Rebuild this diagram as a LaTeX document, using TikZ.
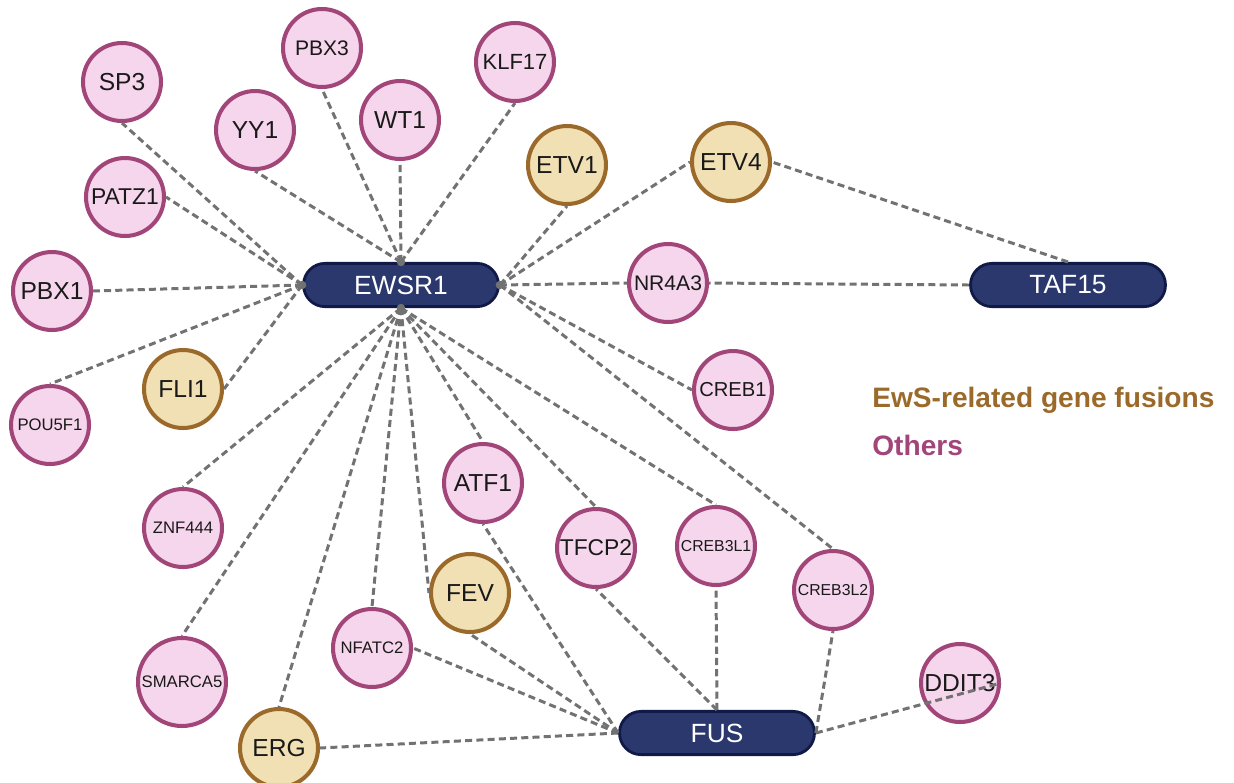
\documentclass[tikz,border=0pt]{standalone}
\usepackage{fontspec}
\setmainfont{Liberation Sans}
\definecolor{othersfill}{HTML}{F6D6EC}
\definecolor{othersline}{HTML}{A2467A}
\definecolor{fusionfill}{HTML}{F0E0B4}
\definecolor{fusionline}{HTML}{9B6A2A}
\definecolor{hubfill}{HTML}{2A386E}
\definecolor{hubline}{HTML}{111A47}
\definecolor{linkgray}{HTML}{727272}

\begin{document}
\begin{tikzpicture}[x=0.02cm, y=-0.02cm,
	gene/.style={circle, minimum size=1.56cm, inner sep=0pt, line width=2.3pt, text=black!90},
	others/.style={gene, draw=othersline, fill=othersfill},
	fusion/.style={gene, draw=fusionline, fill=fusionfill},
	hub/.style={rectangle, rounded corners=0.43cm, draw=hubline, fill=hubfill, line width=1.6pt, minimum width=3.9cm, minimum height=0.865cm, text=white, font=\fontsize{15}{18}\selectfont},
	link/.style={draw=linkgray, line width=1.7pt, dash pattern=on 4pt off 2.4pt},
	legend/.style={anchor=west, inner sep=0pt, font=\bfseries\fontsize{16}{19}\selectfont}]
	\useasboundingbox (0,0) rectangle (1234,782);
	% hubs
	\node[hub] (EWSR1) at (401,285) {EWSR1};
	\node[hub] (TAF15) at (1068,285) {TAF15};
	\node[hub] (FUS) at (717,733) {FUS};
	% other partners
	\foreach \n/\x/\y/\s in {SP3/122/82/14, PBX3/322/48/12, KLF17/515/62/12.5, YY1/255/130/14, WT1/400/120/14, PATZ1/125/197/13, PBX1/52/291/14, NR4A3/668/283/12, CREB1/733/390/11.5, POU5F1/50/425/9.5, ATF1/483/483/14, ZNF444/183/528/9.5, TFCP2/596/548/13, CREB3L1/716/546/9, CREB3L2/833/590/9, NFATC2/372/648/9.5, DDIT3/960/683/14}
		{\node[others, font=\fontsize{\s}{\s}\selectfont] (\n) at (\x,\y) {\n};}
	\node[others, minimum size=1.76cm, font=\fontsize{9.5}{9.5}\selectfont] (SMARCA5) at (182,682) {SMARCA5};
	% EwS-related fusion partners
	\foreach \n/\x/\y in {ETV1/567/165, ETV4/731/162, FLI1/183/389, FEV/470/593, ERG/279/748}
		{\node[fusion, font=\fontsize{14}{14}\selectfont] (\n) at (\x,\y) {\n};}
	% links
	\foreach \a/\b in {EWSR1.west/SP3.south, EWSR1.west/PATZ1.east, EWSR1.west/PBX1.east, EWSR1.west/POU5F1.north, EWSR1.west/FLI1.east,
		EWSR1.north/YY1.south, EWSR1.north/PBX3.south, EWSR1.north/WT1.south, EWSR1.north/KLF17.south,
		EWSR1.east/ETV1.south, EWSR1.east/ETV4.west, EWSR1.east/NR4A3.west, EWSR1.east/CREB1.west, EWSR1.east/CREB3L2.north,
		EWSR1.south/ZNF444.north, EWSR1.south/SMARCA5.north, EWSR1.south/ERG.north, EWSR1.south/NFATC2.north, EWSR1.south/FEV.west, EWSR1.south/ATF1.north, EWSR1.south/TFCP2.north, EWSR1.south/CREB3L1.north,
		FUS.west/ERG.east, FUS.west/NFATC2.east, FUS.west/FEV.south, FUS.west/ATF1.south,
		FUS.north/TFCP2.south, FUS.north/CREB3L1.south, FUS.east/CREB3L2.south, FUS.east/DDIT3.east,
		TAF15.west/NR4A3.east, TAF15.north/ETV4.east}
		{\draw[link] (\a) -- (\b);}
	\foreach \a in {north,south,east,west} {\fill[linkgray] (EWSR1.\a) circle (2.4pt);}
	% key
	\node[legend, text=fusionline] (fusionkey) at (872,400) {EwS-related gene fusions};
	\node[legend, text=othersline] (otherskey) at (872,445) {Others};
\end{tikzpicture}
\end{document}
